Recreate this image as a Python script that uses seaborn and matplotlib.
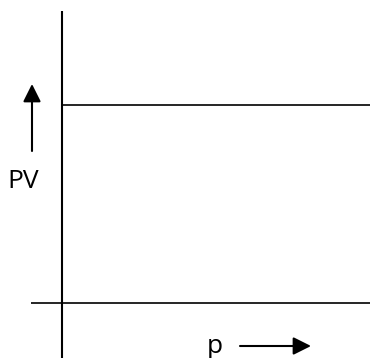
import matplotlib
matplotlib.use("Agg")
import matplotlib.pyplot as plt
import seaborn as sns
import pandas as pd

# Data (arbitrary units): PV constant with pressure p (Boyle's law)
p_values = [0, 308]
pv_values = [198, 198]
x_label = "p"
y_label = "PV"

sns.set_theme(style="white")
plt.rcParams['font.family'] = ['Open Sans', 'DejaVu Sans']

df = pd.DataFrame({"p": p_values, "PV": pv_values})

fig = plt.figure(figsize=(3.70, 3.58), dpi=100)
ax = fig.add_axes([0, 0, 1, 1])
# pixel-aligned data frame: origin at (62, 303) px
ax.set_xlim(-62, 308)
ax.set_ylim(-55, 303)
ax.axis("off")

sns.lineplot(data=df, x="p", y="PV", ax=ax, color="black", linewidth=1.2)

# axes lines
ax.plot([0, 0], [-55, 292], color="black", lw=1.5, solid_capstyle="butt")
ax.plot([-31, 308], [0, 0], color="black", lw=1.2, solid_capstyle="butt")

arrow_style = "-|>,head_length=0.6,head_width=0.3"
# up arrow beside PV
ax.annotate("", xy=(-30, 303 - 84), xytext=(-30, 303 - 151),
            arrowprops=dict(arrowstyle=arrow_style, mutation_scale=18, lw=1.5,
                            color="black", shrinkA=0, shrinkB=0))
ax.text(-38.5, 303 - 188, y_label, ha="center", va="baseline", fontsize=19, color="black")

# right arrow beside p
ax.annotate("", xy=(311 - 62, 303 - 346), xytext=(240 - 62, 303 - 346),
            arrowprops=dict(arrowstyle=arrow_style, mutation_scale=18, lw=1.5,
                            color="black", shrinkA=0, shrinkB=0))
ax.text(215 - 62, 303 - 353, x_label, ha="center", va="baseline", fontsize=19, color="black")

fig.savefig("out.png", dpi=100)
